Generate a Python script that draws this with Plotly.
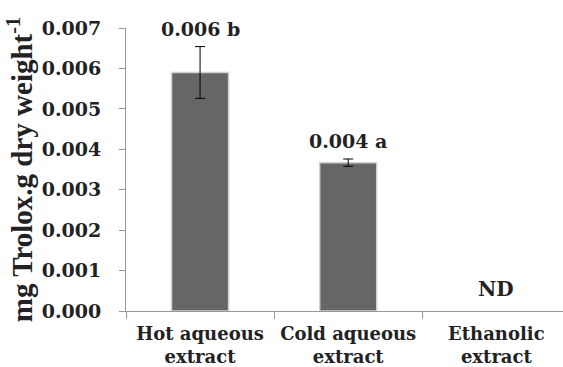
import plotly.graph_objects as go

categories = ["Hot aqueous extract", "Cold aqueous extract", "Ethanolic extract"]
tick_labels = ["Hot aqueous<br>extract", "Cold aqueous<br>extract", "Ethanolic<br>extract"]
values = [0.0059, 0.00367, None]  # ND = not detected
errors = [0.00064, 0.00009, None]
bar_labels = ["0.006 b", "0.004 a", "ND"]
y_ticks = [0.000, 0.001, 0.002, 0.003, 0.004, 0.005, 0.006, 0.007]
y_ticktext = ["0.000", "0.001", "0.002", "0.003", "0.004", "0.005", "0.006", "0.007"]

font_b = "DejaVu Serif"

fig = go.Figure()
fig.add_trace(go.Bar(
    x=categories, y=values, width=0.385,
    marker=dict(color="#666666", line=dict(color="#d0d0d0", width=1.5)),
    error_y=dict(type="data", array=errors, visible=True, color="black",
                 thickness=1, width=5),
))

for c, v, e, t in zip(categories, values, errors, bar_labels):
    top = (v or 0) + (e or 0)
    fig.add_annotation(x=c, y=top, text=f"<b>{t}</b>", showarrow=False,
                       yanchor="bottom", yshift=5 if v else 8,
                       font=dict(family=font_b, size=19 if v else 20, color="#222222"))

fig.update_layout(
    width=563, height=367,
    margin=dict(l=126, r=0, t=28, b=56),
    paper_bgcolor="white", plot_bgcolor="white",
    showlegend=False,
    xaxis=dict(range=[-0.5, 2.45], showline=True, linecolor="#999999", linewidth=1,
               tickvals=categories, ticktext=[f"<b>{t}</b>" for t in tick_labels],
               ticks="outside", tickson="boundaries", ticklen=7, tickcolor="#999999",
               ticklabelstandoff=6,
               tickfont=dict(family=font_b, size=18, color="#222222"),
               showgrid=False, zeroline=False),
    yaxis=dict(range=[0, 0.007], tickvals=y_ticks,
               ticktext=[f"<b>{t}</b>" for t in y_ticktext],
               showline=True, linecolor="#999999", linewidth=1,
               ticks="outside", ticklen=6, tickcolor="#999999",
               ticklabelstandoff=14,
               tickfont=dict(family=font_b, size=19, color="#222222"),
               showgrid=False, zeroline=False,
               title=dict(text="<b>mg Trolox.g dry weight<sup>-1</sup></b>",
                          font=dict(family="Liberation Serif", size=29, color="#222222"),
                          standoff=0)),
)
fig.write_html("out.html")
